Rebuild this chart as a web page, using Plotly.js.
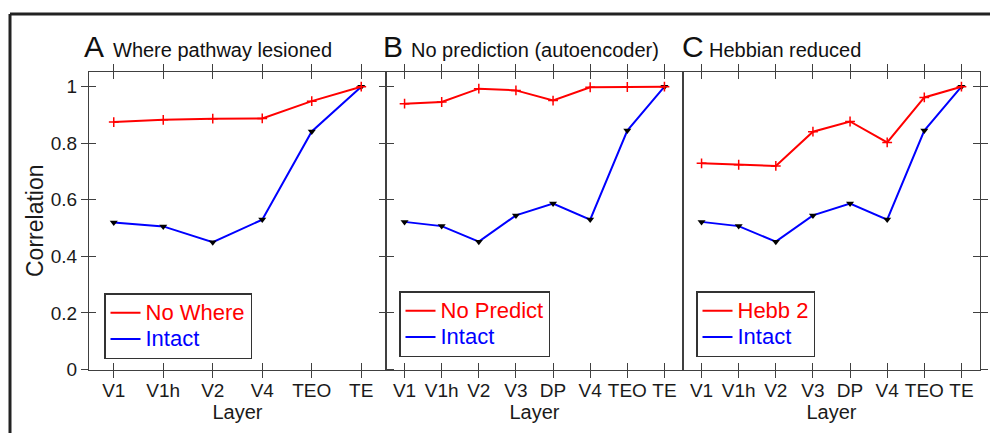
<!DOCTYPE html>
<html>
<head>
<meta charset="utf-8">
<script src="https://cdn.plot.ly/plotly-3.0.1.min.js"></script>
<style>
html,body{margin:0;padding:0;background:#fff;}
#chart{width:990px;height:433px;}
</style>
</head>
<body>
<div id="chart"></div>
<script>
// ---------- data ----------
const layersA = ['V1', 'V1h', 'V2', 'V4', 'TEO', 'TE'];
const layersBC = ['V1', 'V1h', 'V2', 'V3', 'DP', 'V4', 'TEO', 'TE'];
const noWhere = [0.875, 0.883, 0.887, 0.888, 0.949, 1.0];
const intactA = [0.520, 0.506, 0.450, 0.530, 0.842, 1.0];
const noPredict = [0.940, 0.946, 0.993, 0.987, 0.951, 0.998, 0.999, 1.0];
const hebb2 = [0.729, 0.724, 0.720, 0.841, 0.877, 0.803, 0.962, 1.0];
const intactBC = [0.522, 0.507, 0.452, 0.545, 0.587, 0.530, 0.845, 1.0];
const yTickVals = [0, 0.2, 0.4, 0.6, 0.8, 1];
const panelLetters = ['A', 'B', 'C'];
const panelTitles = ['Where pathway lesioned', 'No prediction (autoencoder)', 'Hebbian reduced'];
const lesionNames = ['No Where', 'No Predict', 'Hebb 2'];
const intactName = 'Intact';
const xTitle = 'Layer';
const yTitle = 'Correlation';

// ---------- styles ----------
const W = 990, H = 433;
const RED = '#ff0000', BLUE = '#0000ff', AX = '#404040', TXT = '#1a1a1a';
const FONT = 'Liberation Sans, Arial, sans-serif';
const px = v => v / W;
const py = v => 1 - v / H;
const domX = [[px(89), px(386)], [px(386), px(683)], [px(683), px(980)]];
const domY = [py(369.5), py(72)];
const yRange = [0, 1.052];
const legName = (txt, col) => '<span style="font-size:22px;color:' + col + '">' + txt + '</span>';

const panels = [
  {cats: layersA, lesion: noWhere, intact: intactA},
  {cats: layersBC, lesion: noPredict, intact: intactBC},
  {cats: layersBC, lesion: hebb2, intact: intactBC}
];

const traces = [];
panels.forEach((p, i) => {
  const xa = i === 0 ? 'x' : 'x' + (i + 1);
  const ya = i === 0 ? 'y' : 'y' + (i + 1);
  const lg = i === 0 ? 'legend' : 'legend' + (i + 1);
  traces.push({
    type: 'scatter', mode: 'lines', x: p.cats, y: p.intact, xaxis: xa, yaxis: ya,
    name: legName(intactName, BLUE),
    legend: lg, legendrank: 2, line: {color: BLUE, width: 2}, hoverinfo: 'skip'
  });
  traces.push({
    type: 'scatter', mode: 'markers', x: p.cats, y: p.intact, xaxis: xa, yaxis: ya,
    showlegend: false, marker: {symbol: 'triangle-down', size: 7, color: '#000'}, hoverinfo: 'skip'
  });
  traces.push({
    type: 'scatter', mode: 'lines', x: p.cats, y: p.lesion, xaxis: xa, yaxis: ya,
    name: legName(lesionNames[i], RED),
    legend: lg, legendrank: 1, line: {color: RED, width: 2}, hoverinfo: 'skip'
  });
  traces.push({
    type: 'scatter', mode: 'markers', x: p.cats, y: p.lesion, xaxis: xa, yaxis: ya,
    showlegend: false, marker: {symbol: 'cross-thin', size: 7, color: RED, line: {color: RED, width: 1.5}}, hoverinfo: 'skip'
  });
});

// Draw-nothing helper traces (mode 'none') that register the transparent tick-only
// subplots stacked on each panel; they carry the inner halves of the crossing ticks.
['4', '5', '6'].forEach(n => traces.push({
  type: 'scatter', mode: 'none', x: [0], y: [yTickVals[0]], xaxis: 'x' + n, yaxis: 'y' + n,
  showlegend: false, hoverinfo: 'skip'
}));

function baseX(i, anchor, cats) {
  return {
    domain: domX[i], anchor: anchor, type: 'category', categoryorder: 'array', categoryarray: cats,
    range: [-0.5, cats.length - 0.5], showline: true, linecolor: AX, linewidth: 1,
    ticks: 'outside', ticklen: 7, tickcolor: AX, tickwidth: 1, mirror: 'ticks',
    showgrid: false, zeroline: false, tickfont: {family: FONT, size: 19, color: TXT},
    ticklabelstandoff: -3,
    title: {text: xTitle, font: {family: FONT, size: 20, color: TXT}, standoff: 0},
    fixedrange: true
  };
}
function innerX(i, anchor, cats) {
  return {
    domain: domX[i], anchor: anchor, type: 'linear',
    range: [-0.5, cats.length - 0.5], tickmode: 'array', tickvals: cats.map((c, k) => k),
    ticks: 'inside', ticklen: 7, tickcolor: AX, tickwidth: 1, mirror: 'ticks',
    showline: false, showticklabels: false, showgrid: false, zeroline: false, fixedrange: true
  };
}
function innerY(anchor, opts) {
  return Object.assign({
    domain: domY, anchor: anchor, range: yRange, tickmode: 'array', tickvals: yTickVals,
    ticks: 'inside', ticklen: 7, tickcolor: AX, tickwidth: 1,
    showline: false, showticklabels: false, showgrid: false, zeroline: false, fixedrange: true
  }, opts);
}
const legendBase = {
  xanchor: 'left', yanchor: 'middle', bgcolor: '#fff', bordercolor: '#333', borderwidth: 1.5,
  font: {family: FONT, size: 18, color: TXT}, itemwidth: 30, tracegroupgap: 0
};

const layout = {
  width: W, height: H,
  margin: {l: 0, r: 0, t: 0, b: 0, pad: 0},
  paper_bgcolor: '#fff', plot_bgcolor: 'rgba(0,0,0,0)',
  font: {family: FONT, color: TXT},
  hovermode: false,
  xaxis: baseX(0, 'y', layersA),
  xaxis2: baseX(1, 'y2', layersBC),
  xaxis3: baseX(2, 'y3', layersBC),
  xaxis4: innerX(0, 'y4', layersA),
  xaxis5: innerX(1, 'y5', layersBC),
  xaxis6: innerX(2, 'y6', layersBC),
  yaxis: {
    domain: domY, anchor: 'x', range: yRange, tickmode: 'array', tickvals: yTickVals,
    showline: true, linecolor: AX, linewidth: 1, ticks: 'outside', ticklen: 7, tickcolor: AX, tickwidth: 1,
    mirror: 'ticks', showgrid: false, zeroline: false, tickfont: {family: FONT, size: 19, color: TXT},
    title: {text: yTitle, font: {family: FONT, size: 23, color: TXT}, standoff: 0}, fixedrange: true
  },
  yaxis2: {
    domain: domY, anchor: 'x2', range: yRange, showline: true, linecolor: AX, linewidth: 1, mirror: true,
    ticks: '', showticklabels: false, showgrid: false, zeroline: false, fixedrange: true
  },
  yaxis3: {
    domain: domY, anchor: 'x3', side: 'right', range: yRange, tickmode: 'array', tickvals: yTickVals,
    showline: true, linecolor: AX, linewidth: 1, mirror: true,
    ticks: 'outside', ticklen: 7, tickcolor: AX, tickwidth: 1,
    showticklabels: false, showgrid: false, zeroline: false, fixedrange: true
  },
  yaxis4: innerY('x4', {side: 'left', mirror: 'ticks'}),
  yaxis5: innerY('x5', {ticks: ''}),
  yaxis6: innerY('x6', {side: 'right'}),
  legend: Object.assign({x: px(104), y: py(326)}, legendBase),
  legend2: Object.assign({x: px(399), y: py(324)}, legendBase),
  legend3: Object.assign({x: px(696), y: py(324)}, legendBase),
  annotations: [],
  shapes: [
    {type: 'line', xref: 'paper', yref: 'paper', x0: px(10), x1: 1, y0: py(14), y1: py(14), line: {color: '#222', width: 3}},
    {type: 'line', xref: 'paper', yref: 'paper', x0: px(10), x1: px(10), y0: 0, y1: py(14), line: {color: '#222', width: 3}}
  ]
};

const letterX = [82, 381, 680];
const titleX = [111, 409, 707];
panelLetters.forEach((L, i) => {
  layout.annotations.push({
    xref: 'paper', yref: 'paper', x: px(letterX[i]), y: py(46.6), xanchor: 'left', yanchor: 'middle',
    text: L, showarrow: false, font: {family: FONT, size: 30, color: '#111'}
  });
  layout.annotations.push({
    xref: 'paper', yref: 'paper', x: px(titleX[i]), y: py(50.1), xanchor: 'left', yanchor: 'middle',
    text: panelTitles[i], showarrow: false, font: {family: FONT, size: 20, color: '#111'}
  });
});

Plotly.newPlot('chart', traces, layout, {displayModeBar: false, staticPlot: true});
</script>
</body>
</html>
